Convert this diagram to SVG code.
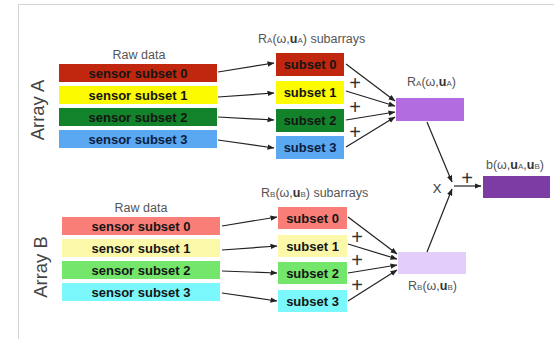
<svg xmlns="http://www.w3.org/2000/svg" width="554" height="339" viewBox="0 0 554 339">
<defs>
<marker id="ah" markerWidth="7" markerHeight="6" refX="6.5" refY="3" orient="auto" markerUnits="userSpaceOnUse">
<path d="M0,0.3 L7,3 L0,5.7 Z" fill="#222"/>
</marker>
<style>
text{font-family:"Liberation Sans",Arial,Helvetica,sans-serif}
.bl{font-size:13px;font-weight:bold;fill:#151515;text-anchor:middle}
.lb{font-size:12.5px;fill:#555}
.sm{font-size:8px}
.ub{font-weight:bold;fill:#333}
.arr{fill:none;stroke:#222;stroke-width:1.2;marker-end:url(#ah)}
.pl{font-size:20px;fill:#333;text-anchor:middle}
.ar{font-size:18.5px;fill:#444;text-anchor:middle}
</style>
</defs>
<rect width="554" height="339" fill="#fff"/>
<path d="M554,4.5 H18.5 V339" fill="none" stroke="#d4d4d4" stroke-width="1"/>

<text class="ar" transform="translate(44,110) rotate(-90)">Array A</text>
<text class="ar" transform="translate(47,267) rotate(-90)">Array B</text>

<text class="lb" x="139" y="59" text-anchor="middle">Raw data</text>
<text class="lb" x="141" y="212" text-anchor="middle">Raw data</text>

<g id="a0"><rect x="59" y="64" width="158" height="18" fill="#c1270f"/><text class="bl" x="138" y="77.5">sensor subset 0</text></g>
<g id="a1"><rect x="59" y="86" width="158" height="18" fill="#fdfb00"/><text class="bl" x="138" y="99.5">sensor subset 1</text></g>
<g id="a2"><rect x="59" y="108" width="158" height="18" fill="#12832a"/><text class="bl" x="138" y="121.5">sensor subset 2</text></g>
<g id="a3"><rect x="59" y="130" width="158" height="18" fill="#5aa8f2"/><text class="bl" x="138" y="143.5" style="fill:#0c1d3f">sensor subset 3</text></g>

<g id="b0"><rect x="62" y="217" width="158" height="18" fill="#fa7e78"/><text class="bl" x="141" y="230.5">sensor subset 0</text></g>
<g id="b1"><rect x="62" y="239" width="158" height="18" fill="#fcf8aa"/><text class="bl" x="141" y="252.5">sensor subset 1</text></g>
<g id="b2"><rect x="62" y="261" width="158" height="18" fill="#74e66b"/><text class="bl" x="141" y="274.5">sensor subset 2</text></g>
<g id="b3"><rect x="62" y="283" width="158" height="18" fill="#7af8fb"/><text class="bl" x="141" y="296.5">sensor subset 3</text></g>

<text class="lb" x="258" y="43">R<tspan class="sm">A</tspan>(ω,<tspan class="ub">u</tspan><tspan class="sm">A</tspan>) subarrays</text>
<text class="lb" x="261" y="197">R<tspan class="sm">B</tspan>(ω,<tspan class="ub">u</tspan><tspan class="sm">B</tspan>) subarrays</text>

<g id="sa0"><rect x="276" y="53" width="68" height="23" fill="#c1270f"/><text class="bl" x="310" y="69">subset 0</text></g>
<g id="sa1"><rect x="276" y="81" width="68" height="23" fill="#fdfb00"/><text class="bl" x="310" y="97">subset 1</text></g>
<g id="sa2"><rect x="276" y="109" width="68" height="23" fill="#12832a"/><text class="bl" x="310" y="125">subset 2</text></g>
<g id="sa3"><rect x="276" y="136" width="68" height="23" fill="#5aa8f2"/><text class="bl" x="310" y="152" style="fill:#0c1d3f">subset 3</text></g>

<g id="sb0"><rect x="278" y="207" width="69" height="22" fill="#fa7e78"/><text class="bl" x="312.5" y="222.5">subset 0</text></g>
<g id="sb1"><rect x="278" y="235" width="69" height="22" fill="#fcf8aa"/><text class="bl" x="312.5" y="250.5">subset 1</text></g>
<g id="sb2"><rect x="278" y="262" width="69" height="22" fill="#74e66b"/><text class="bl" x="312.5" y="277.5">subset 2</text></g>
<g id="sb3"><rect x="278" y="290" width="69" height="22" fill="#7af8fb"/><text class="bl" x="312.5" y="305.5">subset 3</text></g>

<g id="ra"><rect x="396" y="98" width="68" height="23" fill="#b36ce0"/><text class="lb" x="407" y="86">R<tspan class="sm">A</tspan>(ω,<tspan class="ub">u</tspan><tspan class="sm">A</tspan>)</text></g>
<g id="rb"><rect x="398" y="252" width="68" height="22" fill="#e3cdfb"/><text class="lb" x="408" y="290">R<tspan class="sm">B</tspan>(ω,<tspan class="ub">u</tspan><tspan class="sm">B</tspan>)</text></g>
<g id="bout"><rect x="483" y="176" width="67" height="22" fill="#7c3ca3"/><text class="lb" x="486" y="169">b(ω,<tspan class="ub">u</tspan><tspan class="sm">A</tspan>,<tspan class="ub">u</tspan><tspan class="sm">B</tspan>)</text></g>

<g id="connectors">
<path class="arr" d="M218,72 L274,63"/>
<path class="arr" d="M218,97 L274,93"/>
<path class="arr" d="M218,117 L274,120"/>
<path class="arr" d="M218,140 L274,148"/>
<path class="arr" d="M222,226 L277,217"/>
<path class="arr" d="M222,250 L277,246"/>
<path class="arr" d="M222,271 L277,273"/>
<path class="arr" d="M222,293 L277,301"/>

<path class="arr" d="M346,64 L395,101"/>
<path class="arr" d="M346,91 L395,106"/>
<path class="arr" d="M346,120 L395,112"/>
<path class="arr" d="M346,147 L395,117"/>

<path class="arr" d="M348,217 L397,254"/>
<path class="arr" d="M348,244 L397,259"/>
<path class="arr" d="M348,273 L397,265"/>
<path class="arr" d="M348,301 L397,270"/>

<path class="arr" d="M427,122 L452,182"/>
<path class="arr" d="M427,252 L452,189"/>
<path class="arr" d="M454,186 L481,186"/>
</g>

<text class="pl" x="355" y="90">+</text>
<text class="pl" x="355" y="114">+</text>
<text class="pl" x="355" y="139">+</text>
<text class="pl" x="357" y="244">+</text>
<text class="pl" x="357" y="267">+</text>
<text class="pl" x="357" y="292">+</text>
<text class="pl" x="467" y="185">+</text>
<text x="437" y="193" style="font-size:13px;fill:#333;text-anchor:middle">X</text>
</svg>
